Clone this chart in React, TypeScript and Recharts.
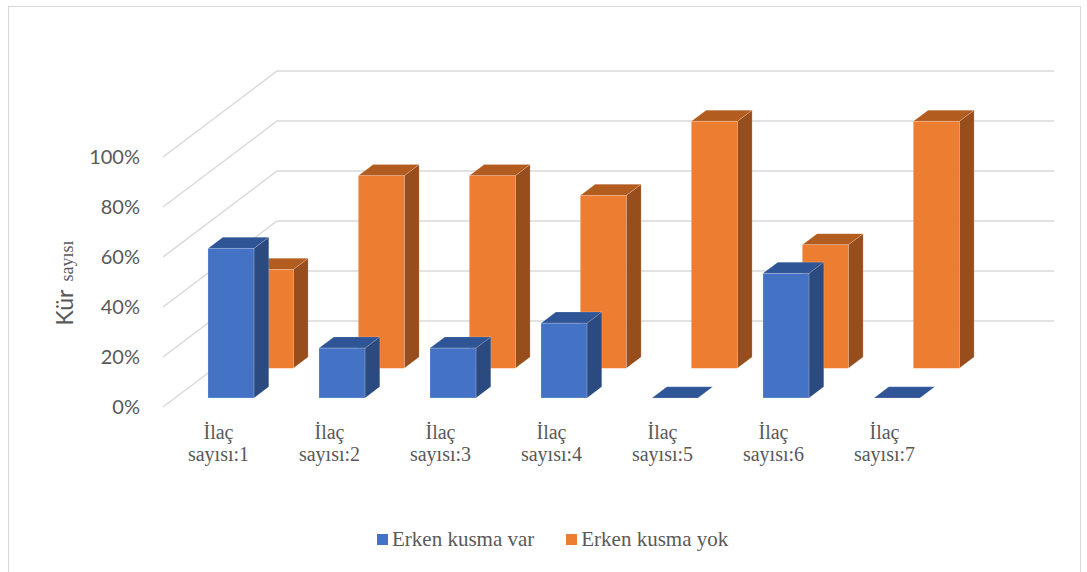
import { BarChart, Bar, XAxis, YAxis, CartesianGrid } from 'recharts';

const categories = [
  'İlaç sayısı:1',
  'İlaç sayısı:2',
  'İlaç sayısı:3',
  'İlaç sayısı:4',
  'İlaç sayısı:5',
  'İlaç sayısı:6',
  'İlaç sayısı:7',
];
const erkenKusmaVar = [60, 20, 20, 30, 0, 50, 0];
const erkenKusmaYok = [40, 78, 78, 70, 100, 50, 100];
const yTicks = [0, 20, 40, 60, 80, 100];
const seriesNames = ['Erken kusma var', 'Erken kusma yok'];
const seriesColors = ['#4472C4', '#ED7D31'];

const data = categories.map((name, i) => ({
  name,
  var: erkenKusmaVar[i],
  yok: erkenKusmaYok[i],
}));

// oblique projection: front edge of the floor -> back wall
const DEPTH_X = 114;
const DEPTH_Y = -86;
const GREY = '#595959';
const SERIF = "'Liberation Serif', 'Times New Roman', serif";

function bar3D(depth: number, thick: number, front: string, top: string, side: string) {
  return (props: any) => {
    const { x, y, width, height } = props;
    if (x == null || y == null) return <g />;
    // slight perspective shrink for rows further back
    const k = 1 - 0.027 * depth;
    const h = Math.max(height || 0, 0) * k;
    const ox = x + DEPTH_X * depth;
    const bottom = y + (height || 0) + DEPTH_Y * depth;
    const oy = bottom - h;
    const dx = DEPTH_X * thick;
    const dy = DEPTH_Y * thick;
    const w = width;
    const edge = 'rgba(255,255,255,0.3)';
    return (
      <g>
        <path
          d={`M${ox + w},${oy} L${ox + w + dx},${oy + dy} L${ox + w + dx},${oy + h + dy} L${ox + w},${oy + h} Z`}
          fill={side}
          stroke={edge}
          strokeWidth={0.6}
        />
        <path
          d={`M${ox},${oy} L${ox + dx},${oy + dy} L${ox + w + dx},${oy + dy} L${ox + w},${oy} Z`}
          fill={top}
          stroke={edge}
          strokeWidth={0.6}
        />
        {h > 0 && <rect x={ox} y={oy} width={w} height={h} fill={front} stroke={edge} strokeWidth={0.6} />}
      </g>
    );
  };
}

const gridLine = (p: any) => {
  const { x1, y1, x2, index } = p;
  return (
    <path
      key={`grid-${index}-${y1}`}
      d={`M${x1},${y1} L${x1 + DEPTH_X},${y1 + DEPTH_Y} L${x2 + DEPTH_X},${y1 + DEPTH_Y}`}
      fill="none"
      stroke="#D9D9D9"
      strokeWidth={1.5}
    />
  );
};

const CatTick = (props: any) => {
  const { x, y, payload } = props;
  const [a, b] = String(payload.value).split(' ');
  return (
    <text textAnchor="middle" fill={GREY} fontFamily={SERIF} fontSize={20}>
      <tspan x={x} y={y + 32}>{a}</tspan>
      <tspan x={x} y={y + 54}>{b}</tspan>
    </text>
  );
};

const YLabel = () => (
  <text transform="rotate(-90, 73, 283)" x={73} y={283} textAnchor="middle" fill={GREY}>
    <tspan fontFamily="Lato" fontSize={23}>Kür</tspan>
    <tspan fontFamily={SERIF} fontSize={18} dx={8}>sayısı</tspan>
  </text>
);

export default function App() {
  return (
    <div style={{ position: 'absolute', left: 0, top: 0, width: 1087, height: 572, overflow: 'hidden', background: '#fff' }}>
      <div
        style={{
          position: 'absolute',
          left: 8,
          top: 6,
          width: 1073,
          height: 580,
          border: '1.5px solid #D9D9D9',
          boxSizing: 'border-box',
        }}
      />
      <div style={{ position: 'absolute', left: 0, top: 0 }}>
        <BarChart width={1087} height={572} data={data} margin={{ top: 157, right: 147, bottom: 105, left: 0 }}>
          <CartesianGrid vertical={false} horizontal={gridLine} />
          <XAxis dataKey="name" tick={<CatTick />} tickLine={false} axisLine={false} tickSize={0} tickMargin={0} height={60} interval={0} />
          <XAxis dataKey="name" xAxisId="back" hide />
          <YAxis
            domain={[0, 100]}
            ticks={yTicks}
            tickFormatter={(v: number) => `${v}%`}
            tick={{ fill: GREY, fontSize: 20, fontFamily: 'Lato' }}
            tickLine={false}
            axisLine={false}
            tickSize={0}
            tickMargin={23}
            width={163}
            label={<YLabel />}
          />
          <Bar
            dataKey="yok"
            name={seriesNames[1]}
            xAxisId="back"
            barSize={46}
            fill={seriesColors[1]}
            isAnimationActive={false}
            shape={bar3D(0.45, 0.13, '#ED7D31', '#B35C20', '#984E1C')}
          />
          <Bar
            dataKey="var"
            name={seriesNames[0]}
            barSize={46}
            fill={seriesColors[0]}
            isAnimationActive={false}
            shape={bar3D(0.105, 0.13, '#4472C4', '#2F5597', '#2A4A80')}
          />
        </BarChart>
      </div>
      <div
        style={{
          position: 'absolute',
          left: 377,
          top: 526,
          display: 'flex',
          alignItems: 'center',
          gap: 32,
          fontFamily: SERIF,
          fontSize: 21,
          color: GREY,
          lineHeight: '26px',
        }}
      >
        {seriesNames.map((n, i) => (
          <div key={n} style={{ display: 'flex', alignItems: 'center' }}>
            <span style={{ width: 11, height: 11, background: seriesColors[i], marginRight: 4, display: 'inline-block' }} />
            <span>{n}</span>
          </div>
        ))}
      </div>
    </div>
  );
}
